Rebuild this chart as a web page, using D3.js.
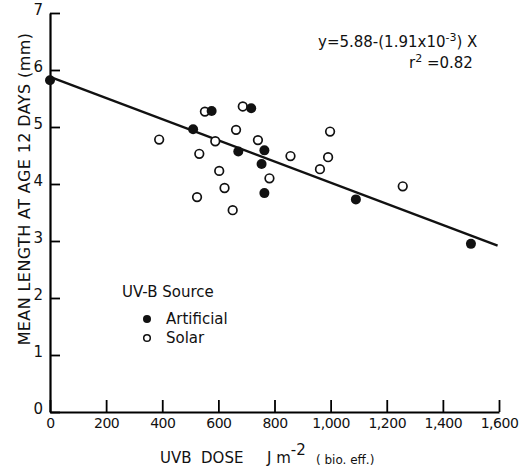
<!DOCTYPE html>
<html>
<head>
<meta charset="utf-8">
<script src="https://cdn.jsdelivr.net/npm/d3@7"></script>
<style>
  body { margin: 0; background: #fff; }
  text { font-family: "DejaVu Sans", sans-serif; fill: #111; white-space: pre; }
</style>
</head>
<body>
<div id="chart"></div>
<script>
// data
var artificialX = [0, 576, 717, 510, 671, 764, 754, 764, 1090, 1500];
var artificialY = [5.82, 5.28, 5.33, 4.96, 4.57, 4.59, 4.35, 3.84, 3.73, 2.95];

var solarX = [552, 687, 663, 389, 589, 741, 532, 782, 603, 622, 524, 651, 857, 998, 991, 962, 1257];
var solarY = [5.27, 5.36, 4.95, 4.78, 4.75, 4.77, 4.53, 4.10, 4.23, 3.93, 3.77, 3.54, 4.49, 4.92, 4.47, 4.26, 3.96];

// regression line as drawn
var fitX = [0, 1595];
var fitY = [5.88, 2.92];

var xTicks = [0, 200, 400, 600, 800, 1000, 1200, 1400, 1600];
var yTicks = [0, 1, 2, 3, 4, 5, 6, 7];

var width = 519, height = 471;
var margin = {top: 13, right: 20, bottom: 59, left: 50};

var svg = d3.select("#chart")
  .append("svg")
  .attr("width", width)
  .attr("height", height);

var x = d3.scaleLinear()
  .domain([0, 1600])
  .range([margin.left, width - margin.right]);

var y = d3.scaleLinear()
  .domain([0, 7])
  .range([height - margin.bottom, margin.top]);

// X axis, ticks pointing up into the plot
var xAxis = svg.append("g")
  .attr("transform", "translate(0," + y(0) + ")")
  .call(d3.axisBottom(x).tickValues(xTicks).tickFormat(d3.format(","))
    .tickSizeInner(-12).tickSizeOuter(0).tickPadding(6));
xAxis.select(".domain").attr("stroke-width", 2.2);
xAxis.selectAll(".tick line").attr("stroke-width", 1.8);
xAxis.selectAll("text")
  .style("font-size", "14px")
  .style("letter-spacing", "-0.5px")
  .attr("fill", "#111");

// Y axis, ticks pointing right
var yAxis = svg.append("g")
  .attr("transform", "translate(" + x(0) + ",0)")
  .call(d3.axisLeft(y).tickValues(yTicks).tickFormat(d3.format("d"))
    .tickSizeInner(-10).tickSizeOuter(0).tickPadding(7));
yAxis.select(".domain").attr("stroke-width", 2.2);
yAxis.selectAll(".tick line").attr("stroke-width", 1.8);
yAxis.selectAll("text").style("font-size", "15px").attr("dy", "0.12em").attr("fill", "#111");

// regression line
var line = d3.line()
  .x(function(d) { return x(d[0]); })
  .y(function(d) { return y(d[1]); });

svg.append("path")
  .datum(d3.zip(fitX, fitY))
  .attr("d", line)
  .attr("fill", "none")
  .attr("stroke", "#111")
  .attr("stroke-width", 2.4);

// solar points (open)
svg.selectAll(".solar")
  .data(d3.zip(solarX, solarY))
  .enter()
  .append("circle")
  .attr("class", "solar")
  .attr("cx", function(d) { return x(d[0]); })
  .attr("cy", function(d) { return y(d[1]); })
  .attr("r", 4.3)
  .attr("fill", "#fff")
  .attr("stroke", "#111")
  .attr("stroke-width", 1.7);

// artificial points (filled)
svg.selectAll(".artificial")
  .data(d3.zip(artificialX, artificialY))
  .enter()
  .append("circle")
  .attr("class", "artificial")
  .attr("cx", function(d) { return x(d[0]); })
  .attr("cy", function(d) { return y(d[1]); })
  .attr("r", 5)
  .attr("fill", "#111");

// axis titles
svg.append("text")
  .attr("transform", "translate(30,189) rotate(-90)")
  .attr("text-anchor", "middle")
  .style("font-size", "16px")
  .style("letter-spacing", "0.4px")
  .text("MEAN LENGTH AT AGE 12 DAYS (mm)");

svg.append("text")
  .attr("x", 160)
  .attr("y", 463)
  .style("font-size", "15px")
  .text("UVB  DOSE");

var xt = svg.append("text")
  .attr("x", 267)
  .attr("y", 463)
  .style("font-size", "15px");
xt.append("tspan").text("J m");
xt.append("tspan").attr("dy", -8).style("font-size", "15px").text("-2");
xt.append("tspan").attr("x", 316).attr("dy", 9).style("font-size", "12px").text("( bio. eff.)");

// equation
var eq = svg.append("text")
  .attr("x", 318)
  .attr("y", 47)
  .style("font-size", "15px");
eq.append("tspan").text("y=5.88-(1.91x10");
eq.append("tspan").attr("dy", -6).style("font-size", "11px").text("-3");
eq.append("tspan").attr("dy", 6).text(") X");

var r2 = svg.append("text")
  .attr("x", 409)
  .attr("y", 68)
  .style("font-size", "15px");
r2.append("tspan").text("r");
r2.append("tspan").attr("dy", -6).style("font-size", "11px").text("2");
r2.append("tspan").attr("dy", 6).text(" =0.82");

// legend
svg.append("text")
  .attr("x", 122)
  .attr("y", 297)
  .style("font-size", "15px")
  .text("UV-B Source");

var legend = [
  {label: "Artificial", filled: true, y: 319},
  {label: "Solar", filled: false, y: 338}
];
var lg = svg.selectAll(".legend")
  .data(legend)
  .enter()
  .append("g")
  .attr("class", "legend");
lg.append("circle")
  .attr("cx", 147)
  .attr("cy", function(d) { return d.y; })
  .attr("r", function(d) { return d.filled ? 4 : 3.3; })
  .attr("fill", function(d) { return d.filled ? "#111" : "#fff"; })
  .attr("stroke", "#111")
  .attr("stroke-width", function(d) { return d.filled ? 0 : 1.5; });
lg.append("text")
  .attr("x", 166)
  .attr("y", function(d) { return d.y + 5; })
  .style("font-size", "15px")
  .text(function(d) { return d.label; });
</script>
</body>
</html>
